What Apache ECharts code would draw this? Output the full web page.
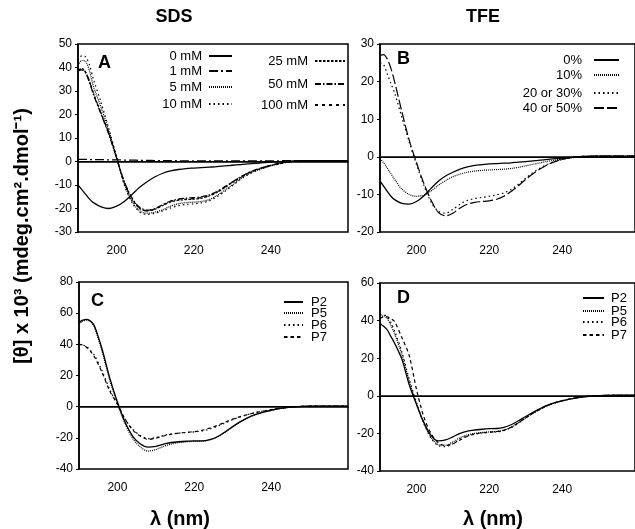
<!DOCTYPE html>
<html lang="en">
<head>
<meta charset="UTF-8">
<title>CD spectra SDS / TFE</title>
<script src="https://cdn.jsdelivr.net/npm/echarts@6/dist/echarts.min.js"></script>
</head>
<body style="margin:0;background:#fff">
<div id="main" style="width:635px;height:529px;"></div>
<script>
    // wavelengths (nm) shared by every curve
    var wl = [190,191,192,193,194,196,198,200,202,204,206,208,210,212,214,216,218,220,222,224,226,228,230,232,234,236,238,240,242,244,246,250,255,260];
    var xTicks = [200, 220, 240];

    // panel A - SDS
    var sds0   = [-10,-12,-14,-16,-17.5,-19.3,-20,-19,-17,-14,-11,-8.5,-6.5,-5,-4,-3.4,-3,-2.8,-2.6,-2.4,-2.2,-1.9,-1.6,-1.3,-1,-0.8,-0.5,-0.3,-0.1,0.1,0.2,0.3,0.4,0.4];
    var sds1   = [0.9,0.9,0.9,0.8,0.8,0.8,0.7,0.7,0.6,0.6,0.5,0.5,0.4,0.4,0.4,0.3,0.3,0.3,0.3,0.3,0.3,0.3,0.3,0.3,0.3,0.3,0.3,0.3,0.3,0.4,0.4,0.4,0.4,0.4];
    var sds5   = [41,43,42.5,38.5,32,23,13,2,-9.5,-17,-21,-22,-21.5,-20.5,-19,-18,-17.5,-17.3,-17,-16.2,-14.5,-12.3,-10,-7.5,-5.5,-4,-2.8,-1.8,-1,-0.3,0.1,0.3,0.4,0.4];
    var sds10  = [43,45,44.5,41,35,25,14,2,-10,-17.5,-21.5,-22.5,-22,-21,-19.8,-18.8,-18.3,-18,-17.6,-16.8,-15,-12.8,-10.3,-7.8,-5.7,-4.1,-2.9,-1.9,-1.1,-0.4,0.1,0.3,0.4,0.4];
    var sds25  = [39,39.5,38,34,29,20.5,12,1.5,-9,-16,-20,-21,-20.3,-18.7,-17.2,-16.5,-16.2,-16,-15.6,-14.7,-13.2,-11.2,-9,-7,-5.1,-3.7,-2.6,-1.7,-0.9,-0.3,0.1,0.3,0.4,0.4];
    var sds50  = [38.5,39,37.5,33.5,28.5,20,11.5,1.5,-8.5,-15.5,-19.5,-20.7,-20,-18.3,-16.8,-16,-15.6,-15.4,-15,-14.2,-12.8,-10.8,-8.7,-6.7,-4.9,-3.5,-2.5,-1.6,-0.9,-0.3,0.1,0.3,0.4,0.4];
    var sds100 = [39,39.3,38,34,29,20.3,12,1.5,-8.8,-15.8,-19.8,-21,-20.2,-18.5,-17,-16.3,-16,-15.8,-15.3,-14.5,-13,-11,-8.8,-6.8,-5,-3.6,-2.5,-1.6,-0.9,-0.3,0.1,0.3,0.4,0.4];

    // panel B - TFE
    var tfe0  = [-6.5,-7.8,-9.2,-10.5,-11.4,-12.4,-12.6,-11.9,-10.4,-8.4,-6.5,-5.1,-4.1,-3.3,-2.7,-2.3,-2.1,-1.9,-1.8,-1.7,-1.6,-1.4,-1.3,-1.1,-0.9,-0.7,-0.5,-0.4,-0.2,0,0.1,0.2,0.2,0.2];
    var tfe10 = [-0.5,-1.6,-3,-4.5,-6,-8.6,-10,-10.5,-10.2,-9.1,-7.6,-6.3,-5.3,-4.6,-4.1,-3.8,-3.6,-3.5,-3.4,-3.3,-3.1,-2.8,-2.4,-2,-1.6,-1.2,-0.9,-0.6,-0.3,-0.1,0.1,0.2,0.2,0.2];
    var tfe20 = [25,24.5,22,19.5,17,10.5,4,-2,-7.5,-12,-14.5,-15,-14,-12.6,-11.6,-11.1,-10.8,-10.5,-10.1,-9.6,-8.7,-7.3,-5.7,-4.2,-3,-2,-1.3,-0.7,-0.3,0,0.1,0.2,0.2,0.2];
    var tfe40 = [27,27.2,26,23.5,20,12,4.5,-1.5,-7,-11.5,-14.8,-15.7,-15,-13.6,-12.6,-12.1,-11.9,-11.7,-11.3,-10.5,-9.2,-7.7,-6,-4.5,-3.2,-2.1,-1.3,-0.7,-0.3,0,0.1,0.2,0.2,0.2];

    // panel C - peptides in SDS
    var p2C = [54,55.5,56,55,52,37,18.5,3,-10,-19,-24,-26,-25.5,-24,-23,-22.5,-22.2,-22,-22,-21.2,-19.3,-16.3,-12.8,-9.6,-7,-5,-3.5,-2.3,-1.3,-0.6,-0.1,0.3,0.4,0.4];
    var p5C = [53,55,55.5,54.5,51,35.5,17,2,-11,-20.5,-26,-28.5,-27.5,-25.5,-24,-23,-22.5,-22.3,-22.2,-21.4,-19.5,-16.5,-13,-9.8,-7.1,-5.1,-3.6,-2.4,-1.4,-0.6,-0.1,0.3,0.4,0.4];
    var p6C = [40,39.5,38.5,36,33,23,11,1.5,-8,-14.5,-18.5,-20.5,-19.8,-18.5,-17.5,-17,-16.6,-16.2,-15.6,-14.4,-12.6,-10.5,-8.3,-6.5,-5,-3.7,-2.7,-1.9,-1.1,-0.5,0,0.3,0.4,0.4];
    var p7C = [40,39.5,38,35.5,32,22,10,1.5,-8,-15,-19,-21,-20.2,-18.8,-17.7,-17,-16.5,-16,-15.2,-13.8,-12,-10,-8,-6.4,-5,-3.8,-2.8,-1.9,-1.1,-0.5,0,0.3,0.4,0.4];

    // panel D - peptides in TFE
    var p2D = [38.5,37,35,31.5,28,19.5,6,-4.5,-14,-21,-24,-23.5,-21.8,-20,-18.8,-18.2,-17.8,-17.5,-17.4,-16.8,-15.4,-13.3,-11,-8.8,-6.8,-5,-3.6,-2.7,-1.8,-1.1,-0.5,0.1,0.3,0.3];
    var p5D = [42,42.5,41,37.5,33,22,8,-4,-14.5,-22,-26,-26.3,-24.5,-22.3,-20.8,-20,-19.5,-19.2,-19,-18.3,-16.7,-14.4,-11.8,-9.3,-7.1,-5.2,-3.8,-2.7,-1.8,-1.1,-0.5,0.1,0.3,0.3];
    var p6D = [43,43,42,39,34.5,23.5,9,-3.5,-14.5,-22.5,-26.5,-27,-25.5,-23,-21.3,-20.4,-19.8,-19.5,-19.2,-18.5,-16.9,-14.5,-11.8,-9.3,-7.1,-5.2,-3.8,-2.7,-1.8,-1.1,-0.5,0.1,0.3,0.3];
    var p7D = [41,42,42,41,39.5,31,21.5,3.5,-11,-20,-25,-26.5,-25.5,-23.5,-21.5,-20.3,-19.7,-19.3,-19,-18.3,-16.7,-14.3,-11.7,-9.2,-7,-5.1,-3.7,-2.6,-1.7,-1,-0.4,0.1,0.3,0.3];

    var font = '"Liberation Sans", Arial, sans-serif';
    var DOTS = [1.5, 3], FINE = [1, 1], DASH = [3.5, 3];

    var myChart = echarts.init(document.getElementById('main'));

    function curve(name, idx, vals, type, zero) {
        var s = {
            name: name, type: 'line', xAxisIndex: idx, yAxisIndex: idx,
            data: wl.map(function (w, i) { return [w, vals[i]]; }),
            smooth: 0.3, symbol: 'none', showSymbol: false, silent: true,
            lineStyle: { color: '#000', width: type === 'solid' ? 1.3 : 1.2, type: type }
        };
        if (zero) {
            s.markLine = {
                silent: true, symbol: 'none', label: { show: false },
                lineStyle: { color: '#000', width: 1, type: 'solid' },
                data: [{ yAxis: 0 }]
            };
        }
        return s;
    }

    function xa(i) {
        return {
            type: 'value', gridIndex: i, min: 190, max: 260,
            axisLine: { lineStyle: { color: '#000', width: 1.5 } },
            axisTick: { show: false }, splitLine: { show: false },
            axisLabel: { customValues: xTicks, color: '#000', fontSize: 12, fontFamily: font, margin: 13 }
        };
    }

    function ya(i, min, max, step) {
        return {
            type: 'value', gridIndex: i, min: min, max: max, interval: step,
            axisLine: { show: true, lineStyle: { color: '#000', width: 1.5 } },
            axisTick: { show: true, length: 3, lineStyle: { color: '#000' } },
            splitLine: { show: false },
            axisLabel: { color: '#000', fontSize: 12, fontFamily: font, margin: 6 }
        };
    }

    // one legend box per row so rows can sit where the figure has them
    function leg(name, x, y, align, w, gap) {
        var o = {
            data: [name], orient: 'vertical', top: y - 7, padding: 0,
            itemWidth: w, itemHeight: 2, align: align, selectedMode: false,
            itemStyle: { opacity: 0 },
            textStyle: { color: '#000', fontSize: 13, fontFamily: font, lineHeight: 14,
                padding: align === 'right' ? [0, gap || 0, 0, 0] : [0, 0, 0, gap || 0] }
        };
        if (align === 'right') o.right = 635 - x; else o.left = x;
        return o;
    }

    function label(txt, x, y, size, extra) {
        var t = {
            type: 'text', x: x, y: y, silent: true,
            style: { text: txt, fill: '#000', font: 'bold ' + size + 'px ' + font, align: 'left', verticalAlign: 'middle' }
        };
        if (extra) { for (var k in extra) t.style[k] = extra[k]; }
        return t;
    }

    var yTitle = label('[\u03b8] x 10\u00b3 (mdeg.cm\u00b2.dmol\u207b\u00b9)', 0, 0, 20, { align: 'center' });
    yTitle.x = 22; yTitle.y = 236; yTitle.rotation = Math.PI / 2;

    var option = {
        animation: false,
        backgroundColor: '#fff',
        grid: [
            { left: 78, top: 44, width: 270, height: 188, show: true, borderColor: '#000', borderWidth: 1.5 },
            { left: 380, top: 44, width: 268, height: 188, show: true, borderColor: '#000', borderWidth: 1.5 },
            { left: 79, top: 282, width: 269, height: 187, show: true, borderColor: '#000', borderWidth: 1.5 },
            { left: 380, top: 283, width: 268, height: 188, show: true, borderColor: '#000', borderWidth: 1.5 }
        ],
        xAxis: [xa(0), xa(1), xa(2), xa(3)],
        yAxis: [ya(0, -30, 50, 10), ya(1, -20, 30, 10), ya(2, -40, 80, 20), ya(3, -40, 60, 20)],
        legend: [
            leg('0 mM', 233, 56, 'right', 23, 2),
            leg('1 mM', 233, 71, 'right', 23, 2),
            leg('5 mM', 233, 87, 'right', 23, 2),
            leg('10 mM', 233, 104, 'right', 23, 2),
            leg('25 mM', 346, 61, 'right', 30, 2),
            leg('50 mM', 346, 84, 'right', 30, 2),
            leg('100 mM', 346, 105, 'right', 30, 2),
            leg('0%', 620, 60, 'right', 25, 7),
            leg('10%', 620, 75, 'right', 25, 7),
            leg('20 or 30%', 620, 93, 'right', 25, 7),
            leg('40 or 50%', 620, 108, 'right', 25, 7),
            leg('P2', 283, 302, 'left', 19, 3),
            leg('P5', 283, 313, 'left', 19, 3),
            leg('P6', 283, 325, 'left', 19, 3),
            leg('P7', 283, 337, 'left', 19, 3),
            leg('P2', 582, 298, 'left', 21, 2),
            leg('P5', 582, 311, 'left', 21, 2),
            leg('P6', 582, 322, 'left', 21, 2),
            leg('P7', 582, 335, 'left', 21, 2)
        ],
        series: [
            curve('0 mM', 0, sds0, 'solid', true),
            curve('1 mM', 0, sds1, [9, 3, 2, 3]),
            curve('5 mM', 0, sds5, FINE),
            curve('10 mM', 0, sds10, DOTS),
            curve('25 mM', 0, sds25, [2.5, 1.5]),
            curve('50 mM', 0, sds50, [6, 2, 1.5, 2]),
            curve('100 mM', 0, sds100, [3, 4]),

            curve('0%', 1, tfe0, 'solid', true),
            curve('10%', 1, tfe10, FINE),
            curve('20 or 30%', 1, tfe20, DOTS),
            curve('40 or 50%', 1, tfe40, [10, 3]),

            curve('P2', 2, p2C, 'solid', true),
            curve('P5', 2, p5C, FINE),
            curve('P6', 2, p6C, DOTS),
            curve('P7', 2, p7C, DASH),

            curve('P2', 3, p2D, 'solid', true),
            curve('P5', 3, p5D, FINE),
            curve('P6', 3, p6D, DOTS),
            curve('P7', 3, p7D, DASH)
        ],
        graphic: [
            label('SDS', 174, 17, 18, { align: 'center' }),
            label('TFE', 483, 17, 18, { align: 'center' }),
            yTitle,
            label('\u03bb (nm)', 180, 519, 20, { align: 'center' }),
            label('\u03bb (nm)', 493, 519, 20, { align: 'center' }),
            label('A', 98, 63, 18),
            label('B', 397, 59, 18),
            label('C', 91, 301, 18),
            label('D', 397, 298, 18)
        ]
    };

    myChart.setOption(option);
</script>
</body>
</html>
